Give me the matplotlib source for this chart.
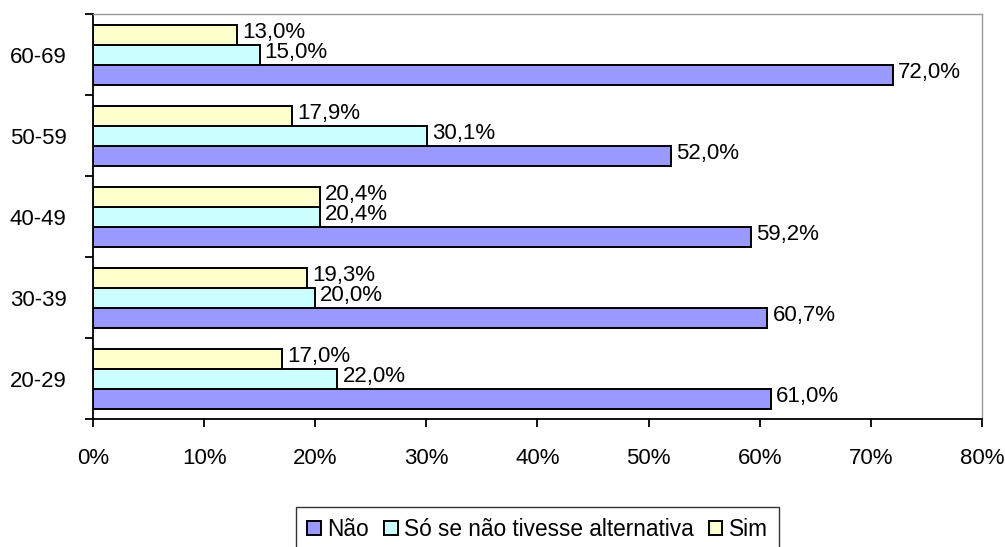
import matplotlib
matplotlib.use("Agg")
import matplotlib.pyplot as plt
import numpy as np

plt.rcParams['font.family'] = ['Liberation Sans', 'DejaVu Sans']

# faixas etarias (de baixo para cima)
ages = ["20-29", "30-39", "40-49", "50-59", "60-69"]
nao = [61.0, 60.7, 59.2, 52.0, 72.0]
so_se = [22.0, 20.0, 20.4, 30.1, 15.0]
sim = [17.0, 19.3, 20.4, 17.9, 13.0]

series = [
    ("Não", nao, "#9999FF"),
    ("Só se não tivesse alternativa", so_se, "#CCFFFF"),
    ("Sim", sim, "#FFFFCC"),
]

fs = 16

fig = plt.figure(figsize=(10.05, 5.47), dpi=100)
ax = fig.add_axes([0.0925, 0.234, 0.8845, 0.740])

y = np.arange(len(ages))
h = 0.247
for i, (name, vals, color) in enumerate(series):
    pos = y + (i - 1) * h
    ax.barh(pos, vals, height=h, color=color, edgecolor='black',
            linewidth=1.4, label=name)
    for p, v in zip(pos, vals):
        ax.text(v + 0.45, p + 0.03, f"{v:.1f}%".replace('.', ','),
                va='center', ha='left', fontsize=fs)

ax.set_xlim(0, 80)
ax.set_ylim(-0.5, len(ages) - 0.5)
ax.set_xticks(np.arange(0, 81, 10))
ax.set_xticklabels([f"{t}%" for t in range(0, 81, 10)], fontsize=fs)
ax.tick_params(axis='x', length=6, width=1.3, pad=15)

ax.set_yticks(np.arange(-0.5, len(ages), 1.0))
ax.set_yticklabels([])
ax.set_yticks(y, minor=True)
ax.set_yticklabels(ages, minor=True, fontsize=fs)
ax.tick_params(axis='y', which='major', length=6, width=1.3)
ax.tick_params(axis='y', which='minor', length=0, pad=19)

for s in ['left', 'bottom']:
    ax.spines[s].set_linewidth(1.3)
for s in ['top', 'right']:
    ax.spines[s].set_color('#999999')
    ax.spines[s].set_linewidth(1.0)

leg = fig.legend(loc='upper center', bbox_to_anchor=(0.535, 0.074), ncol=3,
                 fontsize=16.3, frameon=True, fancybox=False, edgecolor='black',
                 handlelength=0.6, handleheight=0.6, handletextpad=0.3,
                 columnspacing=0.65, borderpad=0.5, borderaxespad=0)
leg.get_frame().set_linewidth(1.0)

fig.savefig("out.png", dpi=100)
